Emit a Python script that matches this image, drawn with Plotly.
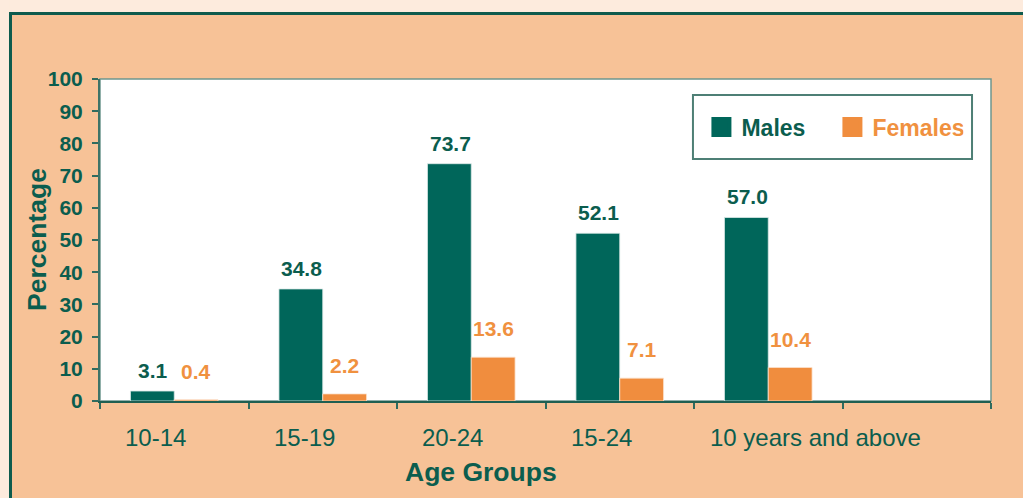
import plotly.graph_objects as go

# data
age_groups = ["10-14", "15-19", "20-24", "15-24", "10 years and above"]
males = [3.1, 34.8, 73.7, 52.1, 57.0]
females = [0.4, 2.2, 13.6, 7.1, 10.4]
y_ticks = list(range(0, 101, 10))

GREEN = "#00665A"
GREEN_TXT = "#0B5D4E"
ORANGE = "#F08D3E"
ORANGE_TXT = "#F0913F"
PEACH = "#F7C297"
LIGHT = "#FDEBDD"
FONT = "Liberation Sans, Arial, sans-serif"

pos = list(range(len(age_groups)))
n_slots = len(age_groups) + 1

fig = go.Figure()
fig.add_trace(go.Bar(x=pos, y=males, marker_color=GREEN, showlegend=False,
	marker_line=dict(color="#DDEBE8", width=0.8), hoverinfo="y"))
fig.add_trace(go.Bar(x=pos, y=females, marker_color=ORANGE, showlegend=False,
	marker_line=dict(color="#FBE1CC", width=0.8), hoverinfo="y"))

# legend entries (bigger squares than bar swatches)
for name, col, tcol in [("Males", GREEN, GREEN_TXT), ("Females", ORANGE, ORANGE_TXT)]:
	fig.add_trace(go.Scatter(x=[None], y=[None], mode="markers", name="<span style='color:%s'>%s</span>" % (tcol, name),
		marker=dict(symbol="square", size=16, color=col, line=dict(color=col, width=4))))

annotations = []
for i in pos:
	annotations.append(dict(x=i, y=males[i], xref="x", yref="y", text="%.1f" % males[i],
		showarrow=False, xshift=-21, yshift=7, yanchor="bottom",
		font=dict(family=FONT, size=21, color=GREEN_TXT, weight="bold")))
	annotations.append(dict(x=i, y=females[i], xref="x", yref="y", text="%.1f" % females[i],
		showarrow=False, xshift=22, yshift=15, yanchor="bottom",
		font=dict(family=FONT, size=21, color=ORANGE_TXT, weight="bold")))
	annotations.append(dict(x=i, y=0, xref="x", yref="paper", text=age_groups[i],
		showarrow=False, xanchor="left", yanchor="middle", xshift=-51 if i < 4 else -60, yshift=-36,
		font=dict(family=FONT, size=24, color=GREEN_TXT)))

annotations.append(dict(x=0.4276, y=0, xref="paper", yref="paper", text="<b>Age Groups</b>",
	showarrow=False, yanchor="middle", yshift=-71,
	font=dict(family=FONT, size=26.5, color=GREEN_TXT)))
annotations.append(dict(x=-0.0707, y=0.5, xref="paper", yref="paper", text="<b>Percentage</b>",
	showarrow=False, textangle=-90, xanchor="center", yanchor="middle",
	font=dict(family=FONT, size=26.5, color=GREEN_TXT)))

shapes = [
	# light strips outside the frame
	dict(type="rect", xref="paper", yref="paper", x0=-0.2, x1=1.2, y0=1.2081, y1=1.3,
		fillcolor=LIGHT, line_width=0, layer="below"),
	dict(type="rect", xref="paper", yref="paper", x0=-0.2, x1=-0.1021, y0=-0.5, y1=1.3,
		fillcolor=LIGHT, line_width=0, layer="below"),
	# frame
	dict(type="line", xref="paper", yref="paper", x0=-0.10045, x1=-0.10045, y0=-0.5, y1=1.2034,
		line=dict(color="#0E5B4D", width=3)),
	dict(type="line", xref="paper", yref="paper", x0=-0.1021, x1=1.2, y0=1.2034, y1=1.2034,
		line=dict(color="#0E5B4D", width=3)),
	# plot border
	dict(type="rect", xref="paper", yref="paper", x0=0, x1=1, y0=0, y1=1,
		line=dict(color="#6E978E", width=1.5), layer="below"),
	# legend box
	dict(type="rect", xref="paper", yref="paper", x0=0.6655, x1=0.9787, y0=0.7516, y1=0.9503,
		fillcolor="white", line=dict(color="#4E7F75", width=2), layer="below"),
]

fig.update_xaxes(range=[-0.5, n_slots - 0.5], tickvals=[k - 0.5 for k in range(n_slots + 1)],
	showticklabels=False, ticks="outside", ticklen=6, tickwidth=1.5, tickcolor="#2F6B5F",
	showline=True, linecolor="#1F5F52", linewidth=2, showgrid=False, zeroline=False, fixedrange=True)
fig.update_yaxes(range=[0, 100], tickvals=y_ticks, ticks="outside", ticklen=6, tickwidth=1.5,
	tickcolor="#2F6B5F", showline=True, linecolor="#3D7368", linewidth=2, showgrid=False,
	zeroline=False, ticklabelstandoff=5, fixedrange=True,
	tickfont=dict(family=FONT, size=21, color=GREEN_TXT, weight="bold"))

fig.update_layout(
	width=1023, height=498,
	barmode="group", bargap=0.41, bargroupgap=0,
	paper_bgcolor=PEACH, plot_bgcolor="white",
	margin=dict(l=100, r=32, t=79, b=97, autoexpand=False),
	showlegend=True,
	legend=dict(orientation="h", x=0.675, y=0.851, xanchor="left", yanchor="middle",
		bgcolor="rgba(0,0,0,0)", borderwidth=0, entrywidth=86, itemclick=False, itemdoubleclick=False,
		font=dict(family=FONT, size=23, weight="bold")),
	annotations=annotations,
	shapes=shapes,
)

fig.write_html("out.html", config={"displayModeBar": False},
	post_script="document.body.style.margin='0';")
